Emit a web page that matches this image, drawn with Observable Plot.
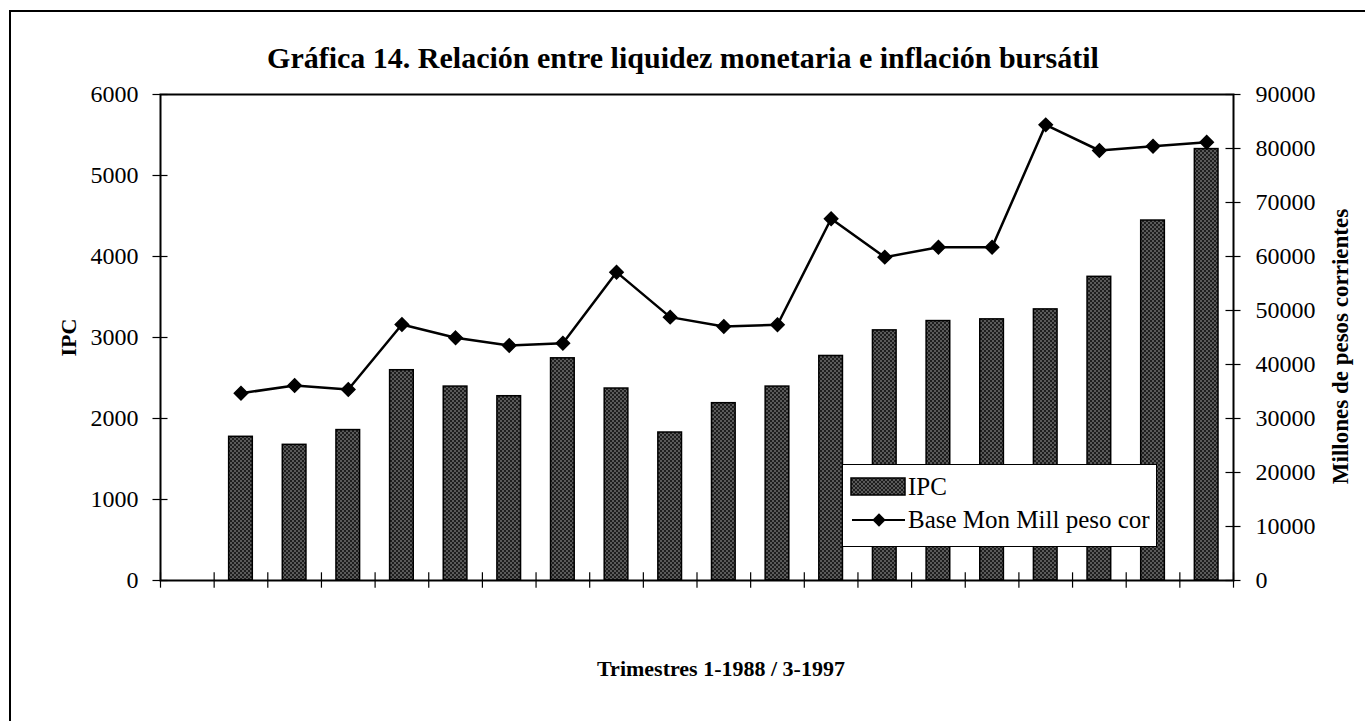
<!DOCTYPE html>
<html><head><meta charset="utf-8">
<script src="https://cdn.jsdelivr.net/npm/d3@7"></script>
<script src="https://cdn.jsdelivr.net/npm/@observablehq/plot@0.6"></script>
<style>
html,body{margin:0;padding:0;background:#fff;}
#wrap{position:relative;width:1365px;height:721px;overflow:hidden;font-family:"Liberation Serif",serif;}
#border{position:absolute;left:9px;top:10px;width:1400px;height:800px;border-left:2px solid #000;border-top:2px solid #000;}
#chart{position:absolute;left:0;top:0;}
#legend{position:absolute;left:842px;top:464px;width:315px;height:83px;background:#fff;border:1.5px solid #000;box-sizing:border-box;}
#legend svg{position:absolute;left:0;top:0;}
</style>
</head><body>
<svg width="0" height="0" style="position:absolute">
  <defs>
    <pattern id="dots" patternUnits="userSpaceOnUse" width="4" height="4">
      <rect width="4" height="4" fill="#1e1e1e"></rect>
      <circle cx="1" cy="1" r="0.75" fill="#b4b4b4"></circle>
      <circle cx="3" cy="3" r="0.75" fill="#b4b4b4"></circle>
    </pattern>
  </defs>
</svg>
<div id="wrap">
  <div id="border"></div>
  <div id="chart"></div>
  <div id="legend"></div>
</div>
<script>
// ---- data ----
const periods = ["1","2","3","4","5","6","7","8","9","10","11","12","13","14","15","16","17","18","19"];
const ipc = [1774, 1675, 1857, 2596, 2394, 2275, 2743, 2370, 1827, 2189, 2394, 2772, 3088, 3203, 3224, 3347, 3749, 4444, 5326];
const baseMon = [34680, 36100, 35370, 47400, 44940, 43520, 43950, 57100, 48770, 47040, 47350, 66980, 59880, 61730, 61730, 84380, 79630, 80430, 81170];
const leftTicks = [0, 1000, 2000, 3000, 4000, 5000, 6000];
const rightTicks = [0, 10000, 20000, 30000, 40000, 50000, 60000, 70000, 80000, 90000];
const title = "Gráfica 14. Relación entre liquidez monetaria e inflación bursátil";
const xLabel = "Trimestres 1-1988 / 3-1997";
const yLabel = "IPC";
const y2Label = "Millones de pesos corrientes";
const seriesNames = ["IPC", "Base Mon Mill peso cor"];

// ---- build ----
const ratio = 90000 / 6000;
const data = periods.map((p, i) => ({period: p, slot: i + 1, ipc: ipc[i], base: baseMon[i]}));
const slots = d3.range(0, periods.length + 2);

const chart = Plot.plot({
  width: 1365,
  height: 721,
  marginLeft: 160,
  marginRight: 132,
  marginTop: 94,
  marginBottom: 141,
  style: {fontFamily: "Liberation Serif, serif", fontSize: "24px", background: "transparent", color: "#000", overflow: "visible"},
  x: {domain: [0, periods.length + 1], axis: null},
  y: {domain: [0, 6000], axis: null},
  marks: [
    Plot.rectY(data, {x1: d => d.slot, x2: d => d.slot + 1, y: "ipc", fill: "url(#dots)", stroke: "#000", strokeWidth: 1.5, insetLeft: 15, insetRight: 15}),
    Plot.frame({stroke: "#000", strokeWidth: 2}),
    Plot.ruleX(slots, {x: d => d, y1: -95, y2: 95, stroke: "#000", strokeWidth: 1.2}),
    Plot.ruleY(leftTicks, {y: d => d, x1: -0.14, x2: 0.14, stroke: "#000", strokeWidth: 1.2}),
    Plot.ruleY(rightTicks, {y: d => d / ratio, x1: periods.length + 1 - 0.14, x2: periods.length + 1 + 0.14, stroke: "#000", strokeWidth: 1.2}),
    Plot.axisY(leftTicks, {anchor: "left", tickSize: 0, tickPadding: 22, label: null, fontSize: 24, tickFormat: d => String(d)}),
    Plot.axisY(rightTicks.map(v => v / ratio), {anchor: "right", tickSize: 0, tickPadding: 22, label: null, fontSize: 24, tickFormat: d => String(Math.round(d * ratio))}),
    Plot.line(data, {x: d => d.slot + 0.5, y: d => d.base / ratio, stroke: "#000", strokeWidth: 2.5}),
    Plot.dot(data, {x: d => d.slot + 0.5, y: d => d.base / ratio, symbol: "diamond2", r: 6, fill: "#000", stroke: "#000"}),
    Plot.text([title], {frameAnchor: "top", dx: -14, dy: -36, fontSize: 30, fontWeight: "bold", lineAnchor: "middle", textAnchor: "middle"}),
    Plot.text([xLabel], {frameAnchor: "bottom", dx: 24, dy: 88, fontSize: 22, fontWeight: "bold", lineAnchor: "middle", textAnchor: "middle"}),
    Plot.text([yLabel], {frameAnchor: "left", dx: -92, dy: 0, fontSize: 22, fontWeight: "bold", rotate: -90, lineAnchor: "middle", textAnchor: "middle"}),
    Plot.text([y2Label], {frameAnchor: "right", dx: 107, dy: 9, fontSize: 23, fontWeight: "bold", rotate: -90, lineAnchor: "middle", textAnchor: "middle"})
  ]
});
document.getElementById("chart").appendChild(chart);

// ---- legend ----
const lg = d3.select("#legend").append("svg").attr("width", 315).attr("height", 83)
  .style("font-family", "Liberation Serif, serif");
lg.append("rect").attr("x", 8).attr("y", 13).attr("width", 54).attr("height", 17)
  .attr("fill", "url(#dots)").attr("stroke", "#000").attr("stroke-width", 1.5);
lg.append("text").attr("x", 65).attr("y", 30).attr("font-size", 25).text(seriesNames[0]);
lg.append("line").attr("x1", 9).attr("x2", 62).attr("y1", 55).attr("y2", 55).attr("stroke", "#000").attr("stroke-width", 2);
lg.append("path").attr("d", d3.symbol(d3.symbolDiamond2, Math.PI * 36)()).attr("transform", "translate(36,55)").attr("fill", "#000");
lg.append("text").attr("x", 65).attr("y", 63).attr("font-size", 25).text(seriesNames[1]);
</script>
</body></html>
